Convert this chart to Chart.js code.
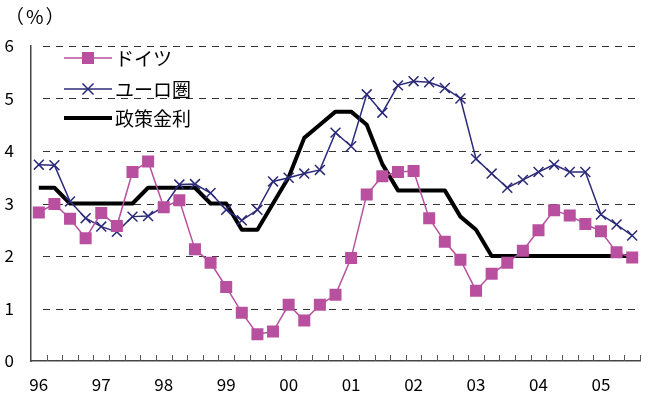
<!DOCTYPE html>
<html>
<head>
<meta charset="utf-8">
<script src="https://cdn.jsdelivr.net/npm/chart.js@4"></script>
<style>
  html, body { margin: 0; padding: 0; background: #fff; }
  #wrap { width: 650px; height: 400px; }
</style>
</head>
<body>
<div id="wrap"><canvas id="myChart"></canvas></div>
<script>
// quarters 96Q1 .. 05Q3
var years = ['96', '97', '98', '99', '00', '01', '02', '03', '04', '05'];
var quarters = [];
years.forEach(function (y) {
    for (var q = 1; q <= 4; q++) quarters.push(y + 'Q' + q);
});
quarters = quarters.slice(0, 39);

var germany = [2.83, 2.99, 2.71, 2.34, 2.82, 2.57, 3.60, 3.80, 2.93, 3.06,
    2.13, 1.87, 1.41, 0.92, 0.51, 0.56, 1.07, 0.77, 1.07, 1.26,
    1.96, 3.17, 3.52, 3.60, 3.62, 2.72, 2.27, 1.93, 1.34, 1.66,
    1.87, 2.10, 2.49, 2.87, 2.77, 2.61, 2.47, 2.07, 1.97];

var euroArea = [3.74, 3.73, 3.04, 2.72, 2.56, 2.46, 2.75, 2.76, 2.94, 3.36,
    3.37, 3.20, 2.88, 2.68, 2.88, 3.42, 3.49, 3.57, 3.64, 4.35,
    4.09, 5.08, 4.73, 5.25, 5.33, 5.31, 5.20, 5.00, 3.85, 3.57,
    3.30, 3.45, 3.60, 3.74, 3.60, 3.60, 2.79, 2.60, 2.39];

var policyRate = [3.3, 3.3, 3.0, 3.0, 3.0, 3.0, 3.0, 3.3, 3.3, 3.3,
    3.3, 3.0, 3.0, 2.5, 2.5, 3.0, 3.5, 4.25, 4.5, 4.75,
    4.75, 4.5, 3.75, 3.25, 3.25, 3.25, 3.25, 2.75, 2.5, 2.0,
    2.0, 2.0, 2.0, 2.0, 2.0, 2.0, 2.0, 2.0, 2.0];

var seriesNames = ['ドイツ', 'ユーロ圏', '政策金利'];
var yTicks = [0, 1, 2, 3, 4, 5, 6];

var magenta = '#b8509f';
var navy = '#2b2a78';
var fontFamily = '"Noto Sans CJK JP", "Liberation Sans", sans-serif';

// inner tick marks on the x axis, dashed gridlines, unit label, legend
var decorPlugin = {
    id: 'decor',
    beforeDatasetsDraw: function (chart) {
        var ctx = chart.ctx;
        var area = chart.chartArea;
        var x = chart.scales.x;
        var y = chart.scales.y;
        ctx.save();
        ctx.strokeStyle = '#333';
        ctx.lineWidth = 1;
        ctx.setLineDash([7, 6]);
        yTicks.forEach(function (v) {
            if (v === 0) return;
            var py = Math.round(y.getPixelForValue(v)) + 0.5;
            ctx.beginPath();
            ctx.moveTo(area.left + 12, py);
            ctx.lineTo(area.right, py);
            ctx.stroke();
        });
        ctx.setLineDash([]);
        ctx.strokeStyle = '#555';
        var step = (area.right - area.left) / quarters.length;
        for (var i = 1; i <= quarters.length; i++) {
            var px = Math.round(area.left + step * i) + 0.5;
            ctx.beginPath();
            ctx.moveTo(px, area.bottom);
            ctx.lineTo(px, area.bottom - 6);
            ctx.stroke();
        }
        ctx.restore();
    },
    afterDraw: function (chart) {
        var ctx = chart.ctx;
        ctx.save();
        ctx.fillStyle = '#000';
        ctx.font = '19px ' + fontFamily;
        ctx.textBaseline = 'middle';
        ctx.letterSpacing = '2px';
        ctx.fillText('（%）', 5, 17);
        ctx.letterSpacing = '0px';

        var rows = [58, 89, 118];
        var x0 = 64, x1 = 112;
        chart.data.datasets.forEach(function (ds, i) {
            var yy = rows[i];
            ctx.strokeStyle = ds.borderColor;
            ctx.lineWidth = ds.borderWidth;
            ctx.beginPath();
            ctx.moveTo(x0, yy);
            ctx.lineTo(x1, yy);
            ctx.stroke();
            var cx = (x0 + x1) / 2;
            if (ds.pointStyle === 'rect') {
                ctx.fillStyle = ds.backgroundColor;
                ctx.fillRect(cx - 6, yy - 6, 12, 12);
            } else if (ds.pointStyle === 'crossRot') {
                ctx.lineWidth = 1.5;
                ctx.beginPath();
                ctx.moveTo(cx - 5.5, yy - 5.5);
                ctx.lineTo(cx + 5.5, yy + 5.5);
                ctx.moveTo(cx + 5.5, yy - 5.5);
                ctx.lineTo(cx - 5.5, yy + 5.5);
                ctx.stroke();
            }
            ctx.fillStyle = '#000';
            ctx.font = '19px ' + fontFamily;
            ctx.fillText(ds.label, 115, yy + 1);
        });
        ctx.restore();
    }
};

var ctx = document.getElementById('myChart').getContext('2d');
var myChart = new Chart(ctx, {
    type: 'line',
    data: {
        labels: quarters,
        datasets: [{
            label: seriesNames[0],
            data: germany,
            borderColor: magenta,
            backgroundColor: magenta,
            borderWidth: 1.5,
            pointStyle: 'rect',
            pointRadius: 8.5,
            pointBorderWidth: 0,
            order: 1
        }, {
            label: seriesNames[1],
            data: euroArea,
            borderColor: navy,
            backgroundColor: navy,
            borderWidth: 1.5,
            pointStyle: 'crossRot',
            pointRadius: 7,
            pointBorderWidth: 1.5,
            order: 2
        }, {
            label: seriesNames[2],
            data: policyRate,
            borderColor: '#000',
            backgroundColor: '#000',
            borderWidth: 4,
            pointRadius: 0,
            borderJoinStyle: 'round',
            order: 3
        }]
    },
    options: {
        responsive: true,
        maintainAspectRatio: false,
        animation: false,
        layout: {
            padding: { top: 46, right: 10, left: 0, bottom: 0 }
        },
        scales: {
            x: {
                type: 'category',
                offset: true,
                grid: { display: false, drawTicks: false },
                border: { display: true, color: '#444', width: 1.5 },
                ticks: {
                    autoSkip: false,
                    maxRotation: 0,
                    padding: 13,
                    color: '#000',
                    font: { family: fontFamily, size: 17 },
                    callback: function (value, index) {
                        var lab = quarters[index];
                        return lab.slice(2) === 'Q1' ? lab.slice(0, 2) : '';
                    }
                },
                afterFit: function (scale) { scale.height = 39; }
            },
            y: {
                min: 0,
                max: 6,
                grid: { display: false, drawTicks: false },
                border: { display: true, color: '#444', width: 1.5 },
                ticks: {
                    stepSize: 1,
                    padding: 17,
                    color: '#000',
                    font: { family: fontFamily, size: 17 }
                },
                afterFit: function (scale) { scale.width = 31; }
            }
        },
        plugins: {
            legend: { display: false },
            tooltip: { enabled: false }
        }
    },
    plugins: [decorPlugin]
});
</script>
</body>
</html>
